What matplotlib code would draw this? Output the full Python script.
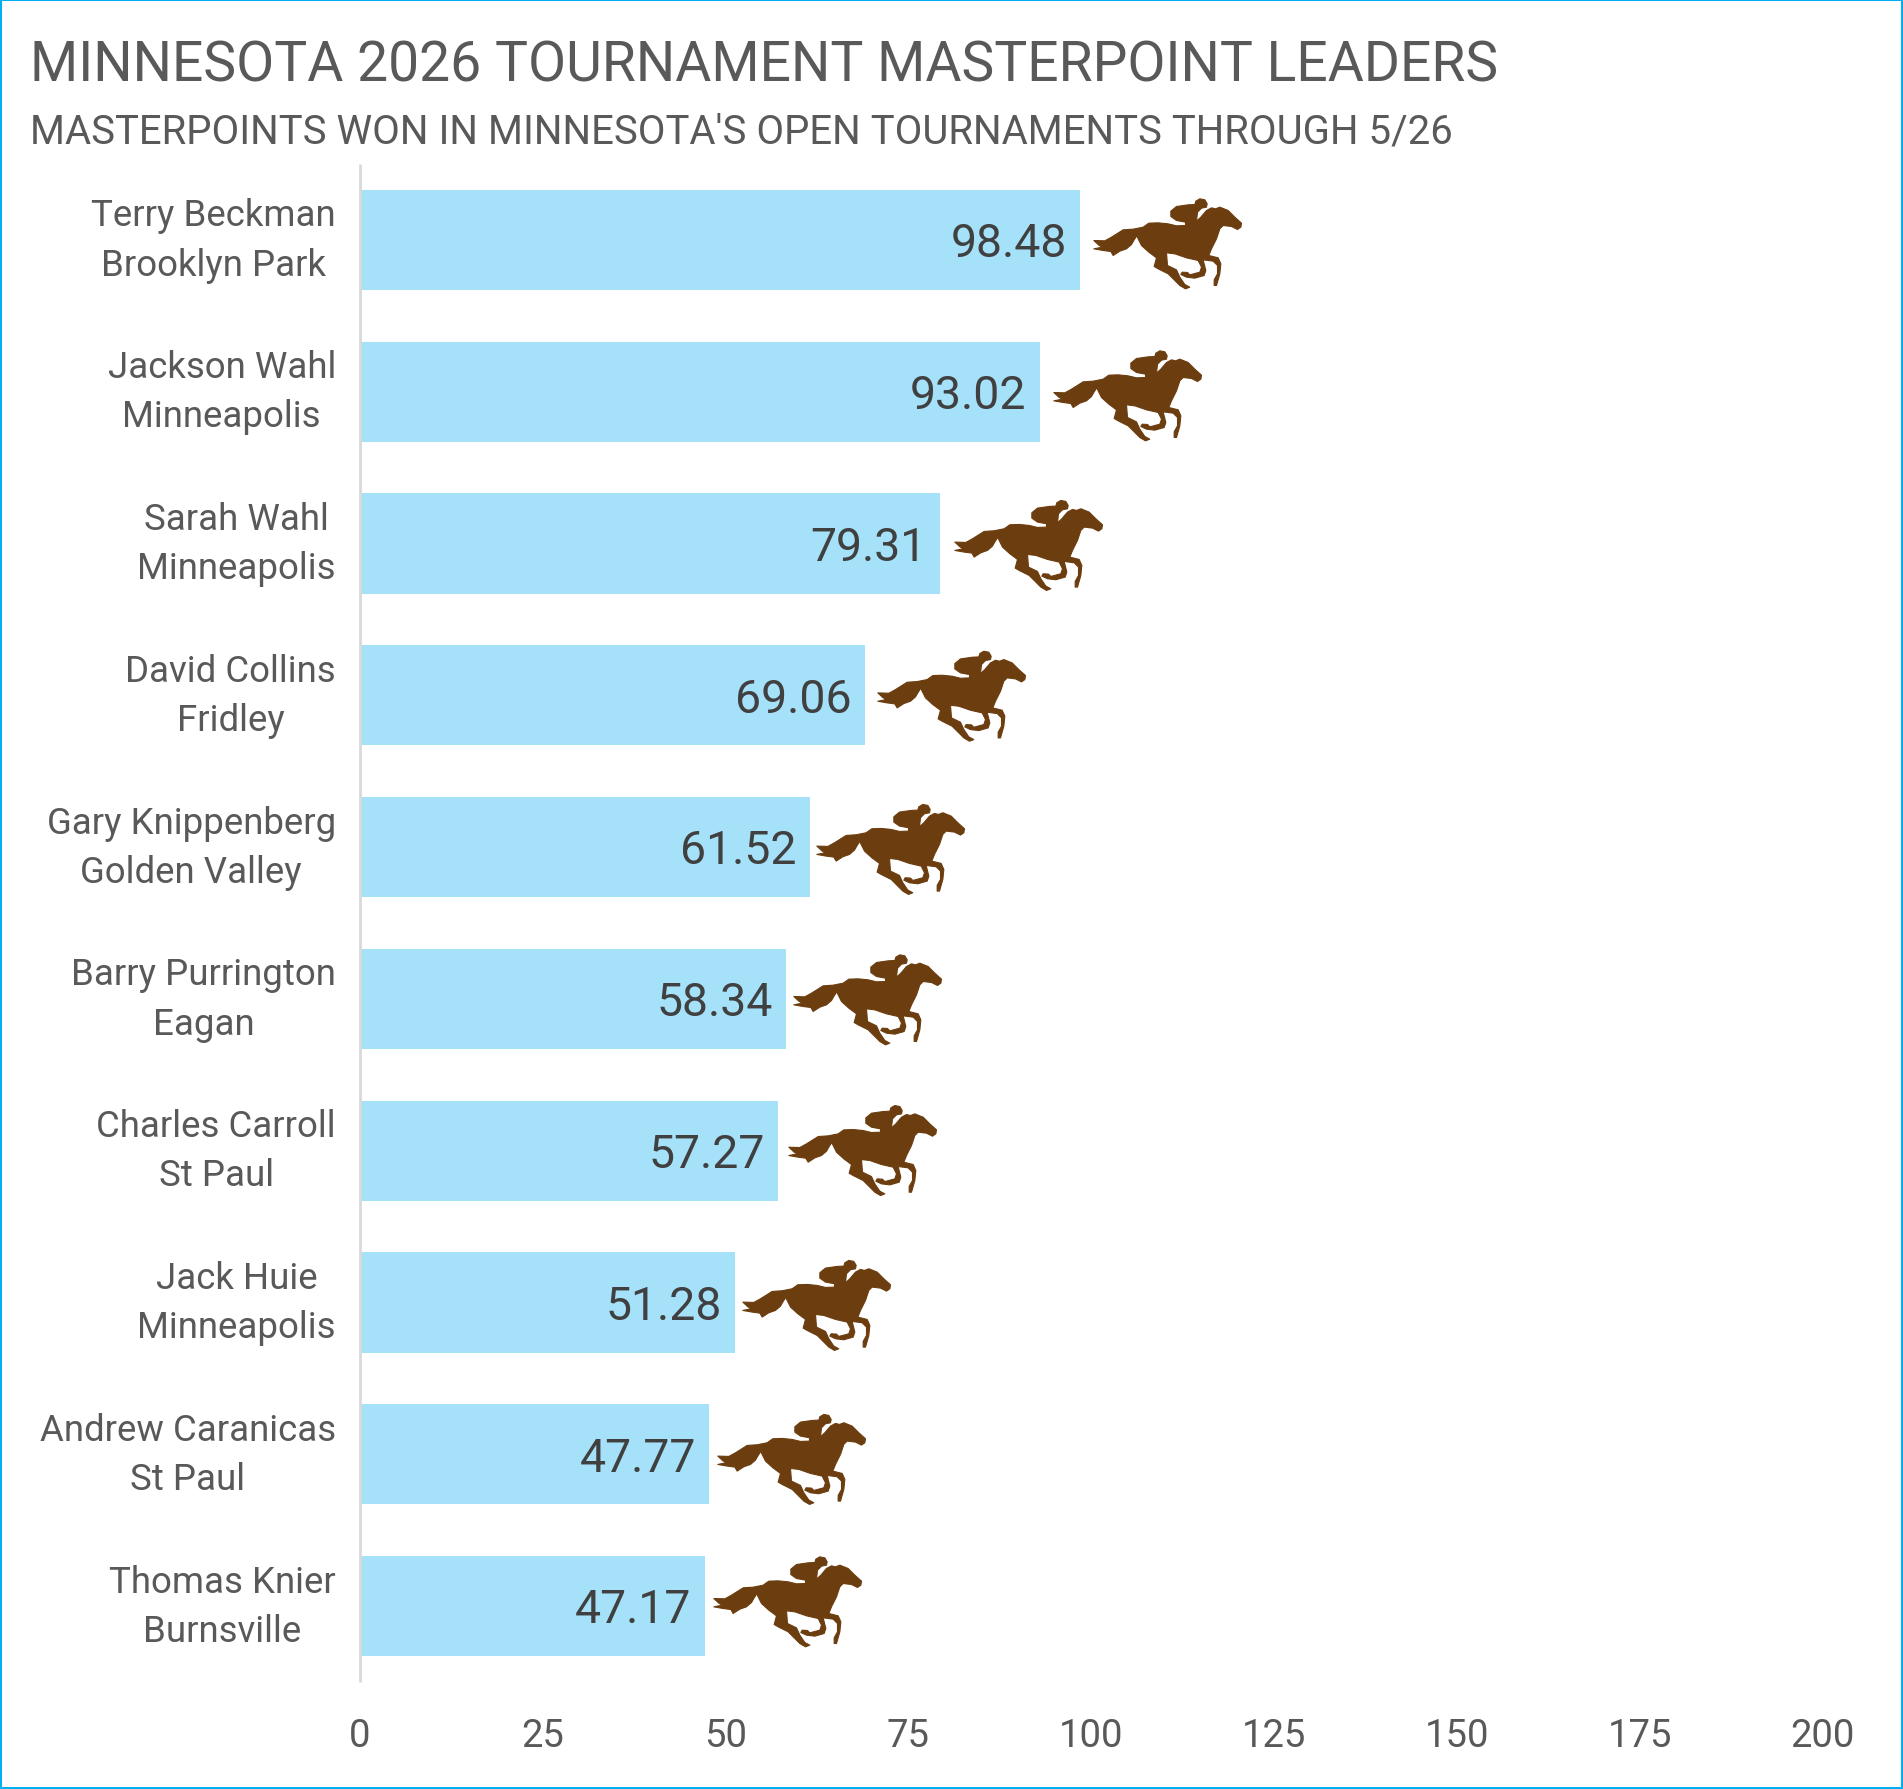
import matplotlib
matplotlib.use("Agg")
import matplotlib.pyplot as plt
from matplotlib.path import Path
from matplotlib.collections import PathCollection
from matplotlib.patches import Rectangle
from matplotlib.transforms import IdentityTransform, ScaledTranslation

names = ["Terry Beckman", "Jackson Wahl", "Sarah Wahl", "David Collins", "Gary Knippenberg",
         "Barry Purrington", "Charles Carroll", "Jack Huie", "Andrew Caranicas", "Thomas Knier"]
cities = ["Brooklyn Park", "Minneapolis", "Minneapolis", "Fridley", "Golden Valley",
          "Eagan", "St Paul", "Minneapolis", "St Paul", "Burnsville"]
values = [98.48, 93.02, 79.31, 69.06, 61.52, 58.34, 57.27, 51.28, 47.77, 47.17]
x_ticks = [0, 25, 50, 75, 100, 125, 150, 175, 200]
title = "MINNESOTA 2026 TOURNAMENT MASTERPOINT LEADERS"
subtitle = "MASTERPOINTS WON IN MINNESOTA'S OPEN TOURNAMENTS THROUGH 5/26"

W, H = 1903, 1790
FONT = "Roboto"
TEXT = "#595959"
plt.rcParams["font.family"] = [FONT, "DejaVu Sans"]

fig = plt.figure(figsize=(W / 100, H / 100), dpi=100, facecolor="white")
left, right, top, bottom = 359.5, 1822.5, 165, 1683
ax = fig.add_axes([left / W, 1 - bottom / H, (right - left) / W, (bottom - top) / H])

positions = list(range(len(values)))
ax.barh(positions, values, height=0.66, color="#A6E1FA", linewidth=0, zorder=2)
ax.set_xlim(0, 200)
ax.set_ylim(len(values) - 0.5, -0.5)

for s in ["top", "right", "bottom"]:
    ax.spines[s].set_visible(False)
ax.spines["left"].set_color("#D9D9D9")
ax.spines["left"].set_linewidth(2.0)
ax.spines["left"].set_capstyle("butt")
ax.spines["left"].set_zorder(3)

ax.set_xticks(x_ticks)
ax.set_xticklabels([str(t) for t in x_ticks])
ax.tick_params(axis="x", length=0, pad=25.5, labelsize=27.5, labelcolor=TEXT)
ax.set_yticks(positions)
ax.set_yticklabels([f"{n}\n{c}" for n, c in zip(names, cities)], multialignment="center", linespacing=1.47)
ax.tick_params(axis="y", length=0, pad=17, labelsize=26.4, labelcolor=TEXT)
up = ScaledTranslation(0, 10.5 / 100, fig.dpi_scale_trans)
for lab in ax.get_yticklabels():
    lab.set_transform(lab.get_transform() + up)

for p, v in zip(positions, values):
    ax.annotate(f"{v:.2f}", (v, p), xytext=(-9.5, 0.8), textcoords="offset points",
                ha="right", va="center_baseline", fontsize=33.4, color="#404040", zorder=4)

# Horse silhouette outline, in pixels relative to the bar's end and centre
outline = [(97,210),(130,211),(150,200),(185,178),(215,176),(245,170),(262,158),(290,157),(320,160),(345,166),
           (372,165),(372,155),(345,150),(328,138),(328,122),(345,108),(380,103),(400,102),(403,92),(415,85),
           (430,88),(437,100),(435,110),(420,113),(408,125),(405,152),(418,140),(435,120),(450,112),(462,115),
           (475,110),(500,120),(520,140),(540,158),(538,170),(528,177),(510,168),(485,165),(475,175),(465,205),
           (450,235),(442,255),(470,262),(478,280),(475,310),(465,345),(458,345),(458,328),(468,310),(468,285),
           (455,272),(425,268),(433,300),(428,315),(400,323),(375,320),(358,312),(362,305),(378,306),(385,313),
           (415,305),(420,290),(410,270),(375,262),(340,250),(315,247),(318,285),(345,298),(355,320),(370,342),
           (385,350),(372,355),(355,345),(320,310),(290,295),(278,288),(285,262),(262,245),(240,225),(230,205),
           (226,196),(218,208),(210,222),(195,235),(175,242),(155,255),(148,243),(125,240),(97,235),(122,230),(112,224)]
verts = [((zx - 60) / 3, (210 - zy) / 3) for zx, zy in outline]
horse = Path(verts + [verts[0]], closed=True)

# Hand placement of each horse relative to its bar, in pixels
nudge_x = [1, 1, 2, 0, -6, -5, -2, -5, -4, -4]
nudge_y = [0, 0, -1.4, -2.6, -1.4, -3, -4.3, -1.4, 1.6, -8]
for p, v, nx, ny in zip(positions, values, nudge_x, nudge_y):
    shifted = Path(horse.vertices + [nx, -ny], horse.codes)
    coll = PathCollection([shifted], offsets=[(v, p)], offset_transform=ax.transData,
                          transform=IdentityTransform(), facecolors="#6B3D0F", edgecolors="#6B3D0F",
                          linewidths=0.8, zorder=5)
    ax.add_collection(coll, autolim=False)

fig.text(30 / W, 1 - 61 / H, title, fontsize=39.8, color=TEXT, ha="left", va="center_baseline")
fig.text(30 / W, 1 - 128 / H, subtitle, fontsize=28.9, color=TEXT, ha="left", va="center_baseline")

fig.add_artist(Rectangle((0, 0), 1, 1, transform=fig.transFigure, fill=False, edgecolor="#00B0F0", linewidth=2.9))

fig.savefig("out.png", dpi=100)
